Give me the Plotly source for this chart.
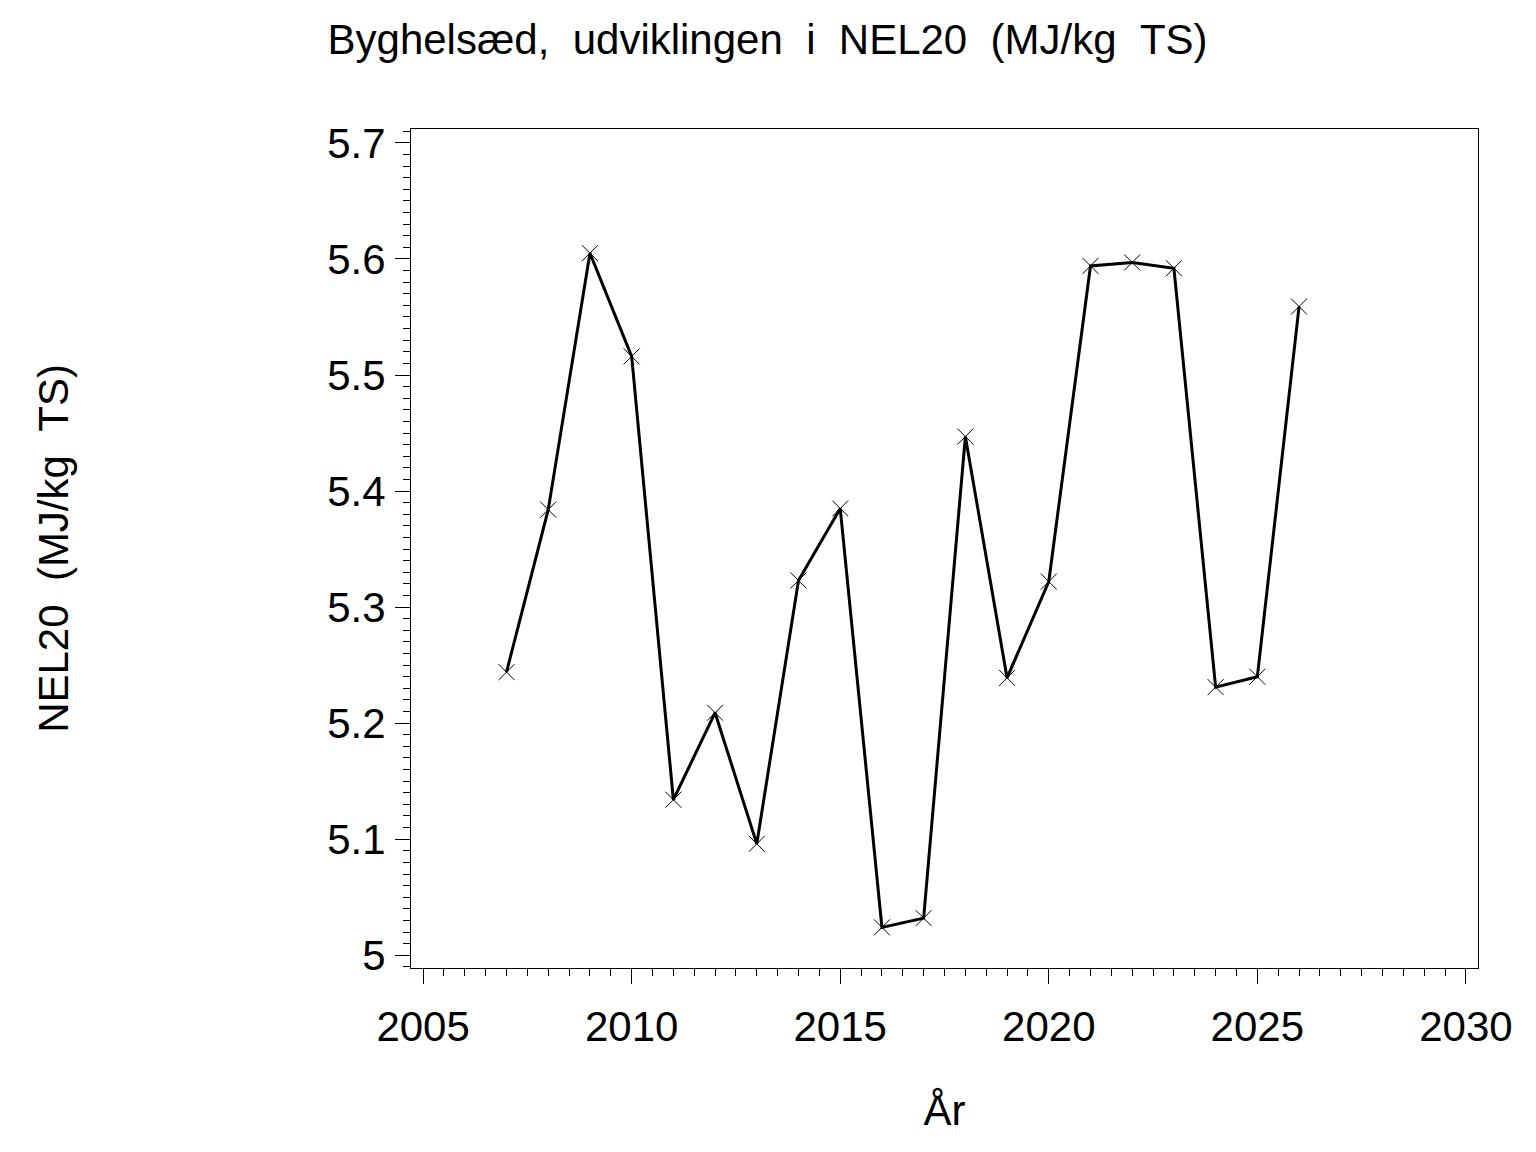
import plotly.graph_objects as go

NBSP = "\u00a0"

years = [2007, 2008, 2009, 2010, 2011, 2012, 2013, 2014, 2015, 2016,
         2017, 2018, 2019, 2020, 2021, 2022, 2023, 2024, 2025, 2026]
nel20 = [5.244, 5.384, 5.605, 5.516, 5.134, 5.209, 5.096, 5.323, 5.385, 5.024,
         5.032, 5.447, 5.239, 5.322, 5.594, 5.597, 5.592, 5.231, 5.240, 5.559]

title_text = "Byghelsæd,  udviklingen  i  NEL20  (MJ/kg  TS)".replace(" ", NBSP)
y_title = "NEL20  (MJ/kg  TS)".replace(" ", NBSP)
x_title = "År"

FONT = "Liberation Sans, Arial, sans-serif"


def main():
    fig = go.Figure()
    fig.add_trace(go.Scatter(
        x=years, y=nel20, mode="lines+markers",
        line=dict(color="black", width=3),
        marker=dict(symbol="x-thin", size=16, line=dict(color="black", width=1)),
        showlegend=False,
    ))

    axis_common = dict(
        showline=True, mirror=True, linecolor="black", linewidth=1,
        showgrid=False, zeroline=False,
        ticks="outside", tickcolor="black", tickwidth=1, ticklen=15,
        tickfont=dict(family=FONT, size=42, color="black"),
    )

    # page body adds an 8px offset, margins account for it
    fig.update_layout(
        width=1536, height=1152,
        paper_bgcolor="white", plot_bgcolor="white",
        margin=dict(l=403, r=66, t=121, b=192),
        font=dict(family=FONT, color="black"),
        title=dict(text=title_text, x=0.4945, xanchor="center", y=0.973, yanchor="middle",
                   font=dict(family=FONT, size=42, color="black")),
        xaxis=dict(
            **axis_common,
            range=[2004.71, 2030.29], tick0=2005, dtick=5,
            ticklabelstandoff=7,
            minor=dict(dtick=0.5, tick0=2005, ticks="outside", ticklen=7,
                       tickcolor="black", tickwidth=1),
            title=dict(text=x_title, standoff=46, font=dict(family=FONT, size=42, color="black")),
        ),
        yaxis=dict(
            **axis_common,
            range=[4.989, 5.712], tick0=5.0, dtick=0.1,
            ticklabelstandoff=1,
            minor=dict(dtick=0.01, tick0=5.0, ticks="outside", ticklen=7,
                       tickcolor="black", tickwidth=1),
            title=dict(text=y_title, standoff=245, font=dict(family=FONT, size=42, color="black")),
        ),
    )
    fig.write_html("out.html")


if __name__ == "__main__":
    main()
